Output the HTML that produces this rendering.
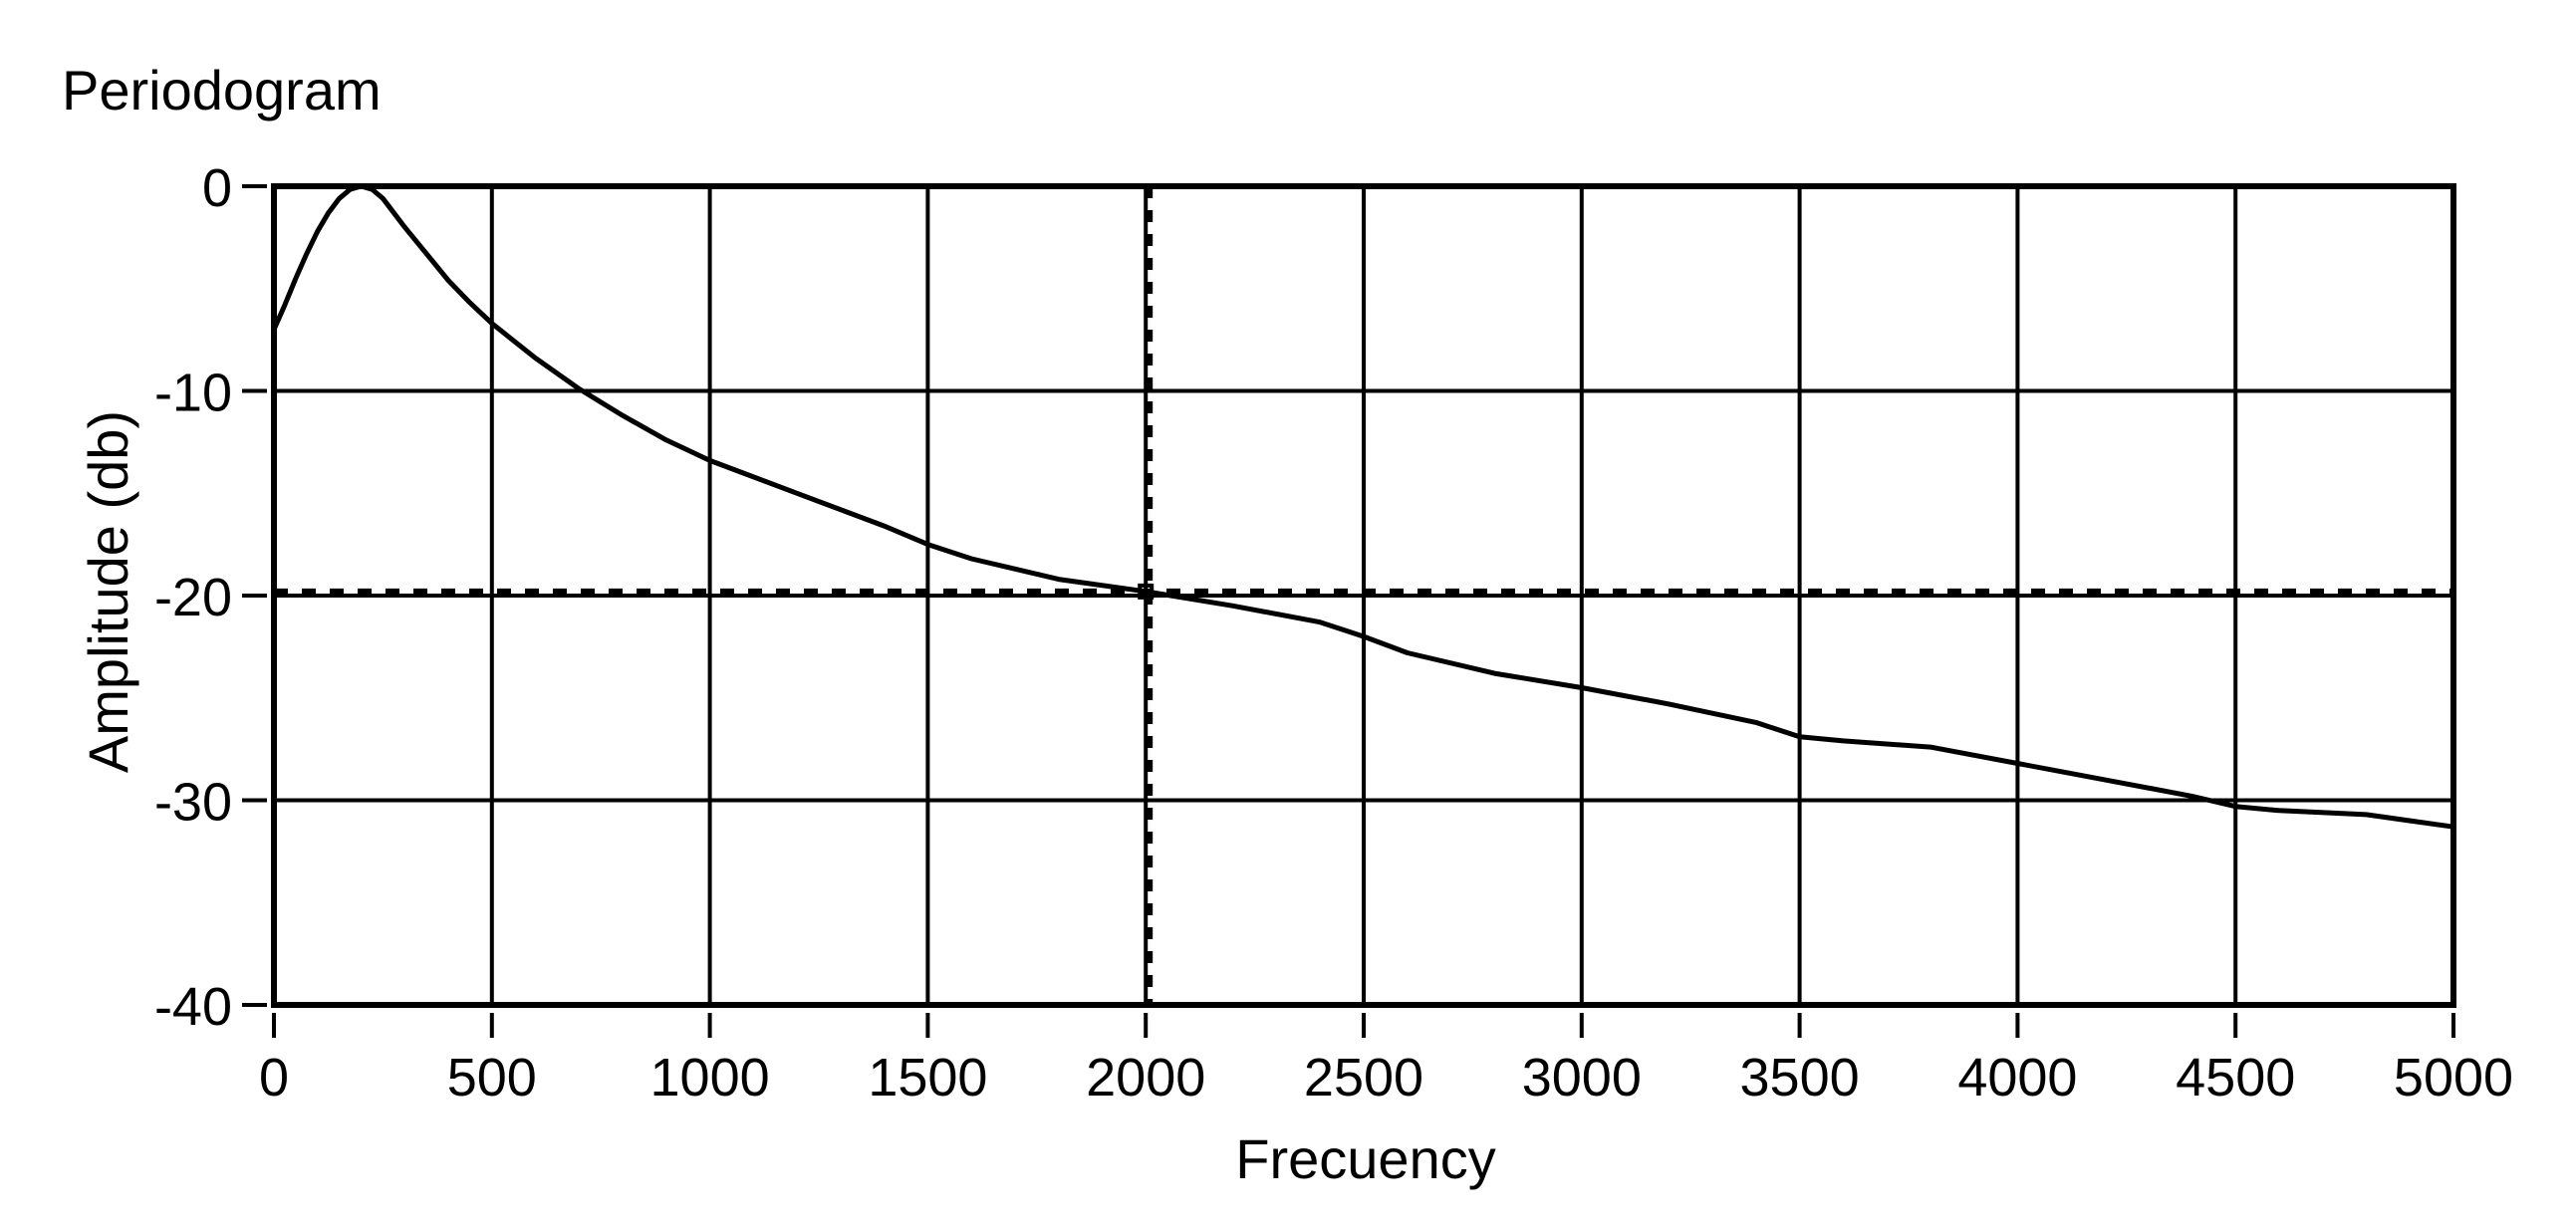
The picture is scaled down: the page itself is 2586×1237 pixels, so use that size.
<!DOCTYPE html>
<html><head><meta charset="utf-8"><style>
html,body{margin:0;padding:0;background:#fff;}
svg{display:block;font-family:"Liberation Sans",sans-serif;}
</style></head>
<body>
<svg id="chart" width="2586" height="1237" viewBox="0 0 2586 1237" xmlns="http://www.w3.org/2000/svg">
<rect width="2586" height="1237" fill="#fff"/>
<text x="62" y="110" font-size="56">Periodogram</text>
<text x="1371" y="1183" font-size="56" text-anchor="middle">Frecuency</text>
<text transform="translate(128,594) rotate(-90)" font-size="56" text-anchor="middle">Amplitude (db)</text>
<g id="grid"></g>
<g id="ticks"></g>
<g id="cursor"></g>
<g id="series"></g>
<rect x="275" y="187" width="2188" height="822" fill="none" stroke="#000" stroke-width="6"/>
</svg>
<script>
const xTicks = [0,500,1000,1500,2000,2500,3000,3500,4000,4500,5000];
const yTicks = [0,-10,-20,-30,-40];
const freqs = [0,25,50,75,100,125,150,175,200,225,250,300,350,400,450,500,600,700,800,900,1000,1200,1400,1500,1600,1800,2000,2200,2400,2500,2600,2800,3000,3200,3400,3500,3600,3800,4000,4200,4400,4500,4600,4800,5000];
const amps = [-7,-5.8,-4.5,-3.3,-2.2,-1.3,-0.6,-0.15,0,-0.15,-0.6,-2,-3.3,-4.6,-5.7,-6.7,-8.4,-9.9,-11.2,-12.4,-13.4,-15,-16.6,-17.5,-18.2,-19.2,-19.8,-20.5,-21.3,-22,-22.8,-23.8,-24.5,-25.3,-26.2,-26.9,-27.1,-27.4,-28.2,-29,-29.8,-30.3,-30.5,-30.7,-31.3];
const cursorX = [2000];
const cursorY = [-19.8];

const L=275,R=2463,T=187,B=1009;
const sx=v=>L+(v-0)/(5000-0)*(R-L);
const sy=v=>T+(0-v)/(0-(-40))*(B-T);
const NS='http://www.w3.org/2000/svg';
function mk(tag,attrs,parent){const e=document.createElementNS(NS,tag);for(const k in attrs)e.setAttribute(k,attrs[k]);parent.appendChild(e);return e;}
const grid=document.getElementById('grid'),ticks=document.getElementById('ticks');
xTicks.forEach(v=>{
  const x=sx(v);
  const g=mk('line',{x1:x,x2:x,y1:T,y2:B,stroke:'#000','stroke-width':4},grid);
  
  
  const t=mk('line',{x1:x,x2:x,y1:1017,y2:1042,stroke:'#000','stroke-width':4},ticks);
  
  
  const l=mk('text',{x:x,y:1100,'font-size':54,'text-anchor':'middle'},ticks);
  l.textContent=v;
  
  
});
yTicks.forEach(v=>{
  const y=sy(v);
  const g=mk('line',{x1:L,x2:R,y1:y,y2:y,stroke:'#000','stroke-width':4},grid);
  
  
  const t=mk('line',{x1:243,x2:268,y1:y,y2:y,stroke:'#000','stroke-width':4},ticks);
  
  
  const l=mk('text',{x:233,y:y+20,'font-size':54,'text-anchor':'end'},ticks);
  l.textContent=v;
  
  
});
const cur=document.getElementById('cursor');
const cx=sx(cursorX[0]), cy=sy(cursorY[0]);
const cv=mk('line',{x1:cx+4,x2:cx+4,y1:T,y2:B,stroke:'#000','stroke-width':6,'stroke-dasharray':'12 12'},cur);


const ch=mk('line',{x1:L,x2:R,y1:cy,y2:cy,stroke:'#000','stroke-width':6,'stroke-dasharray':'14 14'},cur);


const cm=mk('rect',{x:cx-6,y:cy-6,width:12,height:12,fill:'none',stroke:'#000','stroke-width':4},cur);


const ser=document.getElementById('series');
const pts=freqs.map((f,i)=>sx(f).toFixed(1)+','+sy(amps[i]).toFixed(1)).join(' ');
const pl=mk('polyline',{points:pts,fill:'none',stroke:'#000','stroke-width':5,'stroke-linejoin':'round'},ser);


</script>
</body></html>
